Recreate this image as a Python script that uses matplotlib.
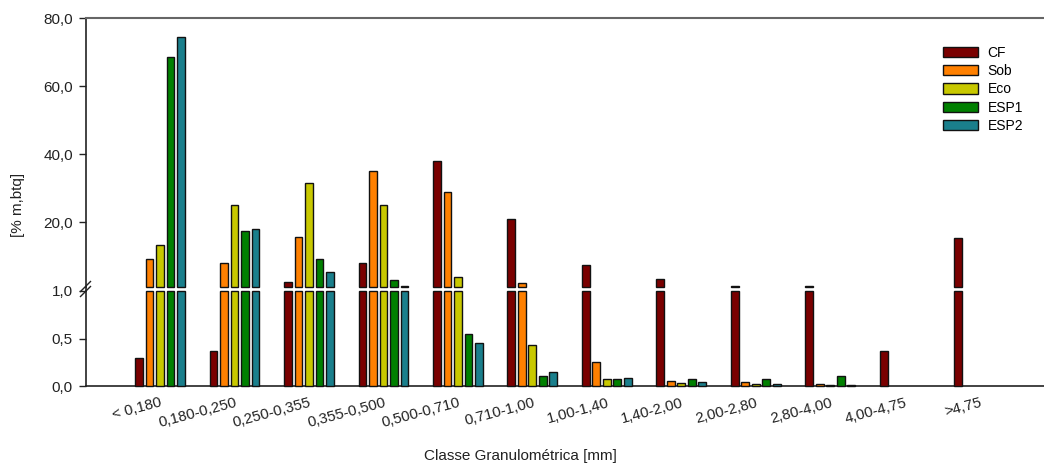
import numpy as np
import matplotlib
matplotlib.use("Agg")
import matplotlib.pyplot as plt
from matplotlib.patches import Patch
from matplotlib.ticker import FuncFormatter

plt.rcParams['font.family'] = ['Liberation Sans', 'DejaVu Sans']

categories = ["< 0,180", "0,180-0,250", "0,250-0,355", "0,355-0,500",
              "0,500-0,710", "0,710-1,00", "1,00-1,40", "1,40-2,00",
              "2,00-2,80", "2,80-4,00", "4,00-4,75", ">4,75"]
series_names = ["CF", "Sob", "Eco", "ESP1", "ESP2"]
cf   = [0.30, 0.37, 2.4, 8.0, 38.1, 21.1, 7.4, 3.4, 1.2, 1.2, 0.37, 15.4]
sob  = [9.1, 8.0, 15.6, 35.2, 29.0, 2.2, 0.25, 0.05, 0.045, 0.025, 0.0, 0.0]
eco  = [13.4, 25.1, 31.5, 25.1, 3.9, 0.43, 0.07, 0.03, 0.02, 0.01, 0.0, 0.0]
esp1 = [68.6, 17.5, 9.2, 3.0, 0.55, 0.11, 0.07, 0.07, 0.07, 0.11, 0.0, 0.0]
esp2 = [74.5, 17.9, 5.4, 1.3, 0.45, 0.15, 0.08, 0.04, 0.02, 0.01, 0.0, 0.0]
series = [cf, sob, eco, esp1, esp2]
colors = ["#7a0000", "#ff8000", "#c8c800", "#008000", "#1a7f8c"]

upper_ticks = [20, 40, 60, 80]
lower_ticks = [0.0, 0.5, 1.0]
brk = 1.0

fig = plt.figure(figsize=(10.44, 4.67), dpi=100)
W, H = 1044, 467
left = 85.5 / W
ax_hi = fig.add_axes([left, 1 - 287 / H, 1 - left, (287 - 18) / H])
ax_lo = fig.add_axes([left, 1 - 386 / H, 1 - left, (386 - 291) / H])

x = np.arange(1, len(categories) + 1)
step, width = 0.141, 0.104

for j, (vals, col) in enumerate(zip(series, colors)):
    v = np.array(vals)
    xs = x + (j - 2) * step
    nz = v > 0
    ax_lo.bar(xs[nz], np.minimum(v[nz], brk), width, color=col,
              edgecolor="#111111", linewidth=1.0, clip_on=False, zorder=3)
    m = v > brk
    ax_hi.bar(xs[m], v[m] - brk, width, bottom=brk, color=col,
              edgecolor="#111111", linewidth=1.0, clip_on=False, zorder=3)

xmax = 12.87
for ax in (ax_hi, ax_lo):
    ax.set_xlim(0, xmax)
    ax.spines['right'].set_visible(False)
    ax.spines['left'].set_color("#222222")
    ax.spines['left'].set_linewidth(1.2)
    ax.tick_params(axis='y', direction='out', length=5, width=1,
                   colors="#222222", labelsize=11, pad=4)
    ax.set_facecolor("none")

fmt = FuncFormatter(lambda v, p: f"{v:.1f}".replace(".", ","))

ax_hi.set_ylim(brk, 80)
ax_hi.set_yticks(upper_ticks)
ax_hi.yaxis.set_major_formatter(fmt)
ax_hi.spines['bottom'].set_visible(False)
ax_hi.spines['top'].set_color("#666666")
ax_hi.spines['top'].set_linewidth(1.5)
ax_hi.set_xticks([])

ax_lo.set_ylim(0, brk)
ax_lo.set_yticks(lower_ticks)
ax_lo.yaxis.set_major_formatter(fmt)
ax_lo.spines['top'].set_visible(False)
ax_lo.spines['bottom'].set_color("#222222")
ax_lo.spines['bottom'].set_linewidth(1.2)
ax_lo.set_xticks(x)
ax_lo.set_xticklabels(categories, rotation=15, ha='right',
                      rotation_mode='anchor', fontsize=10.8, color="#222222")
ax_lo.tick_params(axis='x', length=0, pad=7)

# continuous left spine across the gap plus break marks
fig.add_artist(plt.Line2D([left, left], [1 - 291 / H, 1 - 287 / H],
                          color="#222222", lw=1.2))
for dy in (-2.5, 2.5):
    yc = 1 - (289 + dy) / H
    fig.add_artist(plt.Line2D([left - 5 / W, left + 5 / W],
                              [yc - 5 / H, yc + 5 / H],
                              color="#222222", lw=1.0))

fig.text(18 / W, 1 - 205 / H, "[% m,btq]", rotation=90, ha='center',
         va='center', fontsize=11, color="#222222")
fig.text(520 / W, 1 - 456 / H, "Classe Granulométrica [mm]", ha='center',
         va='center', fontsize=11, color="#222222")

handles = [Patch(facecolor=c, edgecolor="#111111", linewidth=1.0)
           for c in colors]
fig.legend(handles, series_names, loc='upper left',
           bbox_to_anchor=(943 / W, 1 - 46 / H),
           bbox_transform=fig.transFigure, borderaxespad=0, borderpad=0,
           frameon=False, fontsize=10, handlelength=2.5, handleheight=0.75,
           labelspacing=0.3, handletextpad=0.7)

fig.savefig("out.png", dpi=100)
